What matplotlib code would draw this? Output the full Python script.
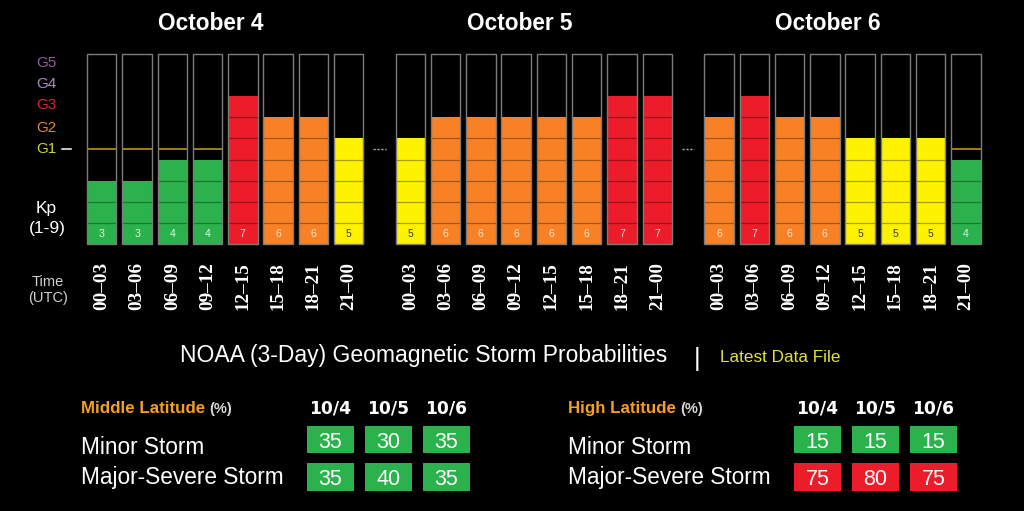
import matplotlib
matplotlib.use("Agg")
import matplotlib.pyplot as plt
import numpy as np
from matplotlib.patches import Rectangle

# ---------------- data ----------------
days = ["October 4", "October 5", "October 6"]
time_bins = ["00–03", "03–06", "06–09", "09–12", "12–15", "15–18", "18–21", "21–00"]
kp_oct4 = [3, 3, 4, 4, 7, 6, 6, 5]
kp_oct5 = [5, 6, 6, 6, 6, 6, 7, 7]
kp_oct6 = [6, 7, 6, 6, 5, 5, 5, 4]
g_labels = ["G1", "G2", "G3", "G4", "G5"]
g_levels = [4.5, 5.5, 6.6, 7.6, 8.6]
g_colors = ["#c9d42c", "#e8803a", "#dc2238", "#a78fbf", "#8a5f9a"]

prob_dates = ["10/4", "10/5", "10/6"]
storm_rows = ["Minor Storm", "Major-Severe Storm"]
mid_minor = [35, 30, 35]
mid_major = [35, 40, 35]
high_minor = [15, 15, 15]
high_major = [75, 80, 75]

# ---------------- style ----------------
GREEN = "#2bb24c"
YELLOW = "#fff200"
ORANGE = "#f88125"
RED = "#ec1c2a"
FRAME = "#7c7c7c"


def kp_color(k):
    if k <= 4:
        return GREEN
    if k == 5:
        return YELLOW
    if k == 6:
        return ORANGE
    return RED


def darker(c, f=0.6):
    r, g, b = matplotlib.colors.to_rgb(c)
    return (r * f, g * f, b * f)


def kp_text_color(k):
    if k == 5:
        return "#3a3a00"
    if k <= 4:
        return "#e8f5e8"
    if k == 6:
        return "#ffe2c8"
    return "#ffd6d6"


W, H = 1024, 511
fig = plt.figure(figsize=(W / 100, H / 100), dpi=100, facecolor="black")
ax = fig.add_axes([0, 0, 1, 1])
ax.set_facecolor("black")
ax.axis("off")

PX_X, X0 = 35.27, 101.75
PX_Y, Y0 = 21.1, 244.0
ax.set_xlim(-X0 / PX_X, (W - X0) / PX_X)
ax.set_ylim(-(H - Y0) / PX_Y, Y0 / PX_Y)

SANS = "Liberation Sans"
SERIF = "Liberation Serif"

group_step = 8.75
bw = 0.836
all_kp = [kp_oct4, kp_oct5, kp_oct6]

for g, (day, kps) in enumerate(zip(days, all_kp)):
    xs = g * group_step + np.arange(len(kps))
    cols = [kp_color(k) for k in kps]
    ax.bar(xs, kps, width=bw, bottom=0, color=cols, edgecolor="none", zorder=2)
    for x, k in zip(xs, kps):
        # cell separators
        for lvl in range(1, k):
            ax.plot([x - bw / 2, x + bw / 2], [lvl, lvl], color=darker(kp_color(k), 0.66),
                    lw=0.9, zorder=3, solid_capstyle="butt")
        # G1 threshold line when below
        if k < 4.5:
            ax.plot([x - bw / 2, x + bw / 2], [4.5, 4.5], color="#c8a214", lw=1.1, zorder=3,
                    solid_capstyle="butt")
        ax.text(x, 0.47, str(k), color=kp_text_color(k), fontsize=7.6, family=SANS,
                ha="center", va="center", zorder=5)
    # frames
    ax.bar(xs, [9] * len(kps), width=bw, bottom=0, fill=False, edgecolor=FRAME, lw=1.0, zorder=4)
    # time labels
    for x, t in zip(xs, time_bins):
        ax.text(x, -0.85, t, rotation=90, ha="center", va="top", color="white",
                fontsize=13.8, family=SERIF, fontweight="bold")
    # day title
    ax.text(xs.mean() - 0.4, 10.47, day, ha="center", va="center", color="white",
            fontsize=16.3, family=SANS, fontweight="bold")
    # separators between groups
    if g < len(days) - 1:
        mid = (xs[-1] + (g + 1) * group_step) / 2
        ax.plot([mid - 0.18, mid + 0.18], [4.5, 4.5], color="#b0b0b0", lw=1.0,
                linestyle=(0, (1.6, 1.2)), zorder=3)

# G labels
for lab, lvl, c in zip(g_labels, g_levels, g_colors):
    ax.text(-1.58, lvl, lab, color=c, fontsize=11, family=SANS, ha="center", va="center")
ax.plot([-1.13, -0.86], [4.5, 4.5], color="white", lw=1.1)


def fx(x):
    return x / W


def fy(y):
    return 1 - y / H


fig.text(fx(46), fy(208), "Kp", color="white", fontsize=12.5, family=SANS, ha="center", va="center")
fig.text(fx(47), fy(229), "(1-9)", color="white", fontsize=12.5, family=SANS, ha="center", va="center")
fig.text(fx(48), fy(282), "Time", color="#d0d0d0", fontsize=10.5, family=SANS, ha="center", va="center")
fig.text(fx(48), fy(298), "(UTC)", color="#d0d0d0", fontsize=10.5, family=SANS, ha="center", va="center")

# main title
fig.text(fx(180), fy(362), "NOAA (3-Day) Geomagnetic Storm Probabilities", color="white",
         fontsize=16.5, family=SANS, ha="left", va="baseline")
fig.text(fx(697), fy(366), "|", color="white", fontsize=18.5, family=SANS, ha="center", va="baseline")
fig.text(fx(720), fy(362), "Latest Data File", color="#e2e23a", fontsize=12.3, family=SANS,
         ha="left", va="baseline")


def draw_table(x_label, title, box_x0, minor, major):
    t = fig.text(fx(x_label), fy(413), title, color="#f5a01e", fontsize=12.2, family=SANS,
                 fontweight="bold", ha="left", va="baseline")
    fig.canvas.draw()
    bb = t.get_window_extent()
    fig.text(bb.x1 / W + 4 / W, fy(413), "(%)", color="#d8d8d8", fontsize=10.5, family=SANS,
             fontweight="bold", ha="left", va="baseline")
    for j, d in enumerate(prob_dates):
        cx = box_x0 + j * 58 + 23.5
        fig.text(fx(cx), fy(413), d, color="white", fontsize=12.3, family="DejaVu Sans",
                 fontweight="bold", ha="center", va="baseline")
    for r, (row, vals, (ytop, ybot)) in enumerate(zip(storm_rows, [minor, major],
                                                       [(426, 453), (463, 491)])):
        fig.text(fx(x_label), fy(454 if r == 0 else 484), row, color="white",
                 fontsize=16.3, family=SANS, ha="left", va="baseline")
        for j, v in enumerate(vals):
            bx = box_x0 + j * 58
            col = RED if v >= 50 else GREEN
            fig.patches.append(Rectangle((fx(bx), fy(ybot)), 47 / W, (ybot - ytop) / H,
                                         transform=fig.transFigure, facecolor=col,
                                         edgecolor="none"))
            fig.text(fx(bx + 23.5), fy((ytop + ybot) / 2 + 8), str(v), color="white",
                     fontsize=15.5, family=SANS, ha="center", va="baseline")


draw_table(81, "Middle Latitude", 307, mid_minor, mid_major)
draw_table(568, "High Latitude", 794, high_minor, high_major)

fig.savefig("out.png", dpi=100, facecolor="black")
